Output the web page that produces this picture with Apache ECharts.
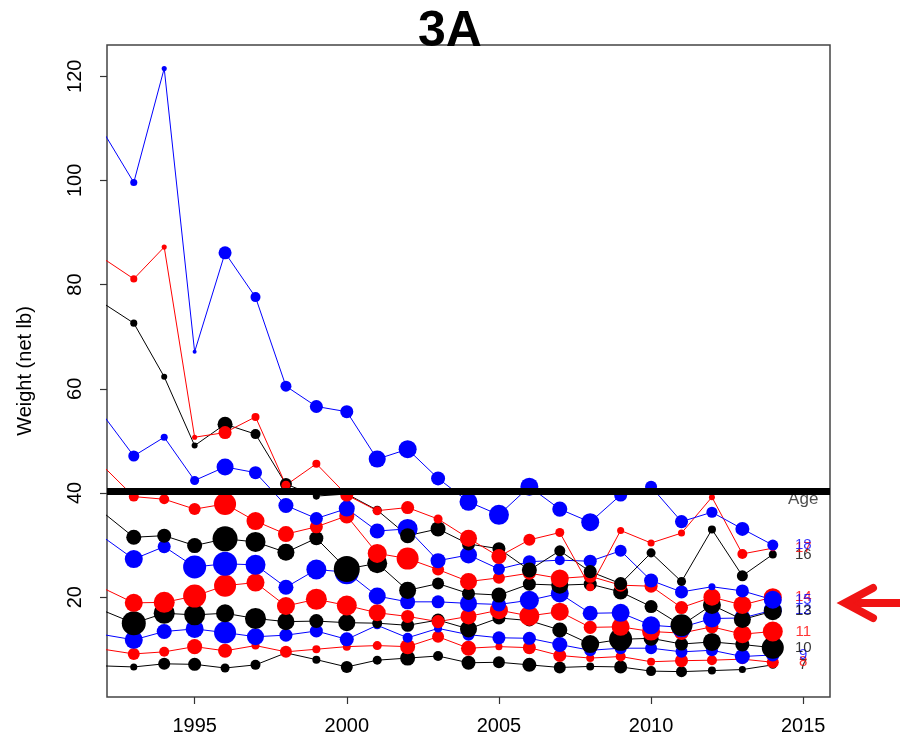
<!DOCTYPE html>
<html>
<head>
<meta charset="utf-8">
<title>3A</title>
<script src="https://cdn.jsdelivr.net/npm/echarts@6/dist/echarts.min.js"></script>
<style>
  html, body { margin: 0; padding: 0; background: #fff; }
  #main { width: 900px; height: 746px; }
</style>
</head>
<body>
<div id="main"></div>
<script>
// Sampling years (1992 lies just left of the plotted range and is clipped)
const years = [1992, 1993, 1994, 1995, 1996, 1997, 1998, 1999, 2000, 2001, 2002, 2003,
               2004, 2005, 2006, 2007, 2008, 2009, 2010, 2011, 2012, 2013, 2014];

// Mean net weight (lb) by age
const age7  = [6.8, 6.6, 7.2, 7.1, 6.4, 7.0, 9.3, 8.0, 6.6, 7.9, 8.3, 8.7, 7.4, 7.5, 7.0, 6.5, 6.7, 6.6, 5.8, 5.7, 5.9, 6.1, 7.0];
const age8  = [10.0, 9.1, 9.5, 10.5, 9.7, 10.7, 9.5, 10.0, 10.5, 10.7, 10.5, 12.4, 10.2, 10.5, 10.3, 8.8, 8.3, 8.6, 7.6, 7.8, 7.9, 8.1, 7.5];
const age9  = [12.8, 11.8, 13.4, 13.9, 13.2, 12.4, 12.7, 13.5, 11.9, 14.6, 12.2, 14.0, 12.8, 12.2, 12.1, 10.9, 9.8, 10.2, 10.2, 9.5, 9.8, 8.6, 8.9];
const age10 = [17.4, 15.0, 16.9, 16.6, 16.9, 15.9, 15.3, 15.4, 15.1, 15.0, 14.6, 15.6, 13.9, 16.0, 15.5, 13.7, 11.0, 11.9, 12.1, 11.0, 11.4, 10.9, 10.3];
const age11 = [21.7, 18.9, 19.0, 20.2, 22.2, 22.8, 18.3, 19.6, 18.4, 17.0, 16.3, 15.3, 16.3, 17.5, 16.4, 17.2, 14.2, 14.3, 13.4, 13.1, 14.3, 12.9, 13.4];
const age12 = [31.5, 27.3, 29.7, 25.8, 26.4, 26.2, 21.9, 25.3, 24.8, 20.2, 19.1, 19.1, 18.8, 18.6, 19.4, 20.7, 16.9, 17.0, 14.6, 14.2, 15.9, 16.0, 17.5];
const age13 = [36.2, 31.5, 31.8, 29.9, 31.2, 30.6, 28.6, 31.3, 25.4, 26.5, 21.3, 22.6, 20.7, 20.4, 22.5, 22.3, 22.5, 21.0, 18.2, 14.6, 18.5, 15.7, 17.3];
const age14 = [45.1, 39.3, 38.8, 36.9, 37.9, 34.6, 32.1, 33.5, 35.6, 28.4, 27.4, 25.3, 23.0, 23.7, 24.6, 23.6, 24.0, 22.3, 22.1, 18.0, 20.0, 18.5, 20.0];
const age15 = [54.9, 47.1, 50.7, 42.4, 45.0, 43.9, 37.6, 35.1, 37.0, 32.7, 33.1, 27.0, 28.1, 25.4, 26.8, 27.1, 26.9, 28.9, 23.2, 21.0, 22.0, 21.2, 19.5];
const age16 = [76.4, 72.6, 62.3, 49.1, 53.2, 51.3, 41.7, 39.4, 39.8, 36.7, 31.8, 33.1, 30.2, 29.3, 25.2, 28.9, 24.9, 22.6, 28.5, 23.0, 33.0, 24.1, 28.2];
const age17 = [85.0, 81.1, 87.2, 50.7, 51.6, 54.6, 41.5, 45.6, 39.6, 36.6, 37.2, 35.0, 31.3, 27.8, 31.0, 32.4, 21.9, 32.8, 30.4, 32.3, 39.2, 28.3, 29.4];
const age18 = [109.3, 99.6, 121.5, 67.1, 86.1, 77.6, 60.5, 56.6, 55.6, 46.5, 48.4, 42.8, 38.3, 35.8, 41.2, 36.9, 34.4, 39.6, 41.2, 34.5, 36.3, 33.1, 30.0];

// Number of fish sampled behind each mean (drawn as circle area)
const n7  = [25, 25, 72, 85, 41, 50, 32, 32, 72, 41, 113, 50, 98, 72, 98, 72, 32, 85, 50, 61, 32, 25, 32];
const n8  = [72, 72, 50, 113, 98, 32, 72, 32, 32, 41, 113, 72, 113, 25, 85, 85, 32, 50, 32, 85, 50, 50, 72];
const n9  = [162, 162, 113, 162, 242, 145, 85, 85, 98, 32, 50, 32, 72, 85, 85, 113, 72, 72, 72, 72, 72, 113, 85];
const n10 = [288, 288, 221, 221, 162, 221, 145, 98, 145, 50, 85, 85, 145, 85, 72, 113, 162, 265, 113, 85, 162, 98, 242];
const n11 = [162, 162, 221, 265, 242, 162, 162, 221, 200, 145, 85, 85, 128, 162, 200, 162, 85, 162, 162, 98, 85, 162, 200];
const n12 = [162, 162, 85, 265, 288, 200, 113, 200, 288, 145, 113, 85, 145, 98, 181, 162, 113, 162, 162, 200, 162, 128, 162];
const n13 = [113, 113, 98, 113, 313, 200, 145, 98, 338, 200, 145, 72, 85, 113, 85, 145, 85, 113, 85, 242, 162, 145, 162];
const n14 = [50, 50, 50, 72, 242, 162, 128, 85, 113, 181, 242, 72, 145, 72, 85, 162, 85, 85, 85, 85, 145, 162, 162];
const n15 = [61, 61, 25, 41, 145, 85, 113, 85, 128, 113, 200, 113, 145, 72, 85, 50, 85, 72, 98, 85, 25, 85, 162];
const n16 = [25, 25, 18, 18, 113, 50, 72, 25, 25, 41, 113, 113, 85, 85, 113, 61, 85, 85, 41, 41, 32, 61, 32];
const n17 = [25, 25, 13, 13, 85, 32, 41, 32, 85, 41, 85, 41, 145, 113, 72, 41, 32, 25, 25, 25, 18, 50, 18];
const n18 = [25, 25, 13, 8, 85, 50, 61, 85, 85, 145, 162, 98, 162, 200, 162, 113, 162, 85, 72, 85, 61, 98, 61];

const ages = [7, 8, 9, 10, 11, 12, 13, 14, 15, 16, 17, 18];
const weights = [age7, age8, age9, age10, age11, age12, age13, age14, age15, age16, age17, age18];
const samples = [n7, n8, n9, n10, n11, n12, n13, n14, n15, n16, n17, n18];

// Axis ticks and reference lines
const xTicks = [1995, 2000, 2005, 2010, 2015];
const yTicks = [20, 40, 60, 80, 100, 120];
const refWeight = 40.4;       // heavy horizontal reference line
const labelYear = 2015;       // column where the age labels sit
const ageHeaderY = 38.7;      // "Age" header height

// Styling
const palette = ['#000000', '#ff0000', '#0000ff'];
const FONT = 'Liberation Sans, Arial, Helvetica, sans-serif';
const sizeOf = n => Math.sqrt(2 * n);

const series = [];
ages.forEach((age, i) => {
  const color = palette[i % 3];
  const w = weights[i], n = samples[i];
  series.push({
    type: 'line',
    name: 'Age ' + age,
    data: years.map((y, k) => ({ value: [y, w[k]], symbolSize: sizeOf(n[k]) })),
    symbol: 'circle',
    showAllSymbol: true,
    clip: true,
    lineStyle: { color: color, width: 1 },
    itemStyle: { color: color },
    emphasis: { disabled: true },
    z: 2
  });
});

// Age labels at the right end of each curve
series.push({
  type: 'scatter',
  data: ages.map((age, i) => ({
    value: [labelYear, weights[i][weights[i].length - 1]],
    label: { formatter: String(age), color: palette[i % 3] }
  })).concat([{ value: [labelYear, ageHeaderY], label: { formatter: 'Age', color: '#222', fontSize: 17 } }]),
  symbolSize: 1,
  itemStyle: { color: 'transparent' },
  label: { show: true, position: 'inside', fontSize: 15, fontFamily: FONT },
  emphasis: { disabled: true },
  z: 3
});

// Heavy reference line across the panel
series.push({
  type: 'line',
  data: [],
  markLine: {
    silent: true,
    symbol: 'none',
    label: { show: false },
    lineStyle: { color: '#000', width: 7, type: 'solid' },
    data: [{ yAxis: refWeight }]
  },
  z: 4
});

const chart = echarts.init(document.getElementById('main'));
chart.setOption({
  animation: false,
  backgroundColor: '#fff',
  title: {
    text: '3A',
    left: 'center',
    top: 2,
    textStyle: { fontSize: 50, fontWeight: 900, fontFamily: FONT, color: '#000' }
  },
  grid: {
    left: 107, right: 70, top: 45, bottom: 49,
    show: true, borderColor: '#444', borderWidth: 1.5, backgroundColor: 'transparent'
  },
  xAxis: {
    type: 'value',
    min: 1992.12, max: 2015.88,
    axisLine: { show: false },
    splitLine: { show: false },
    axisTick: { show: true, customValues: xTicks, length: 7, lineStyle: { color: '#333', width: 1.2 } },
    axisLabel: { customValues: xTicks, formatter: v => String(v), fontSize: 20, fontFamily: FONT, color: '#000', margin: 19 }
  },
  yAxis: {
    type: 'value',
    min: 0.83, max: 126,
    name: 'Weight (net lb)',
    nameLocation: 'middle',
    nameGap: 72,
    nameTextStyle: { fontSize: 20, fontFamily: FONT, color: '#000' },
    axisLine: { show: false },
    splitLine: { show: false },
    axisTick: { show: true, customValues: yTicks, length: 7, lineStyle: { color: '#333', width: 1.2 } },
    axisLabel: { customValues: yTicks, formatter: v => String(v), rotate: 90, fontSize: 20, fontFamily: FONT, color: '#000', margin: 22 }
  },
  graphic: [
    {
      type: 'polyline',
      shape: { points: [[846, 603], [900, 603]] },
      style: { stroke: '#f01414', lineWidth: 8, fill: null }
    },
    {
      type: 'polyline',
      shape: { points: [[873, 588], [845, 603], [873, 618]] },
      style: { stroke: '#f01414', lineWidth: 8, fill: null, lineCap: 'round', lineJoin: 'miter' }
    }
  ],
  series: series
});
</script>
</body>
</html>
